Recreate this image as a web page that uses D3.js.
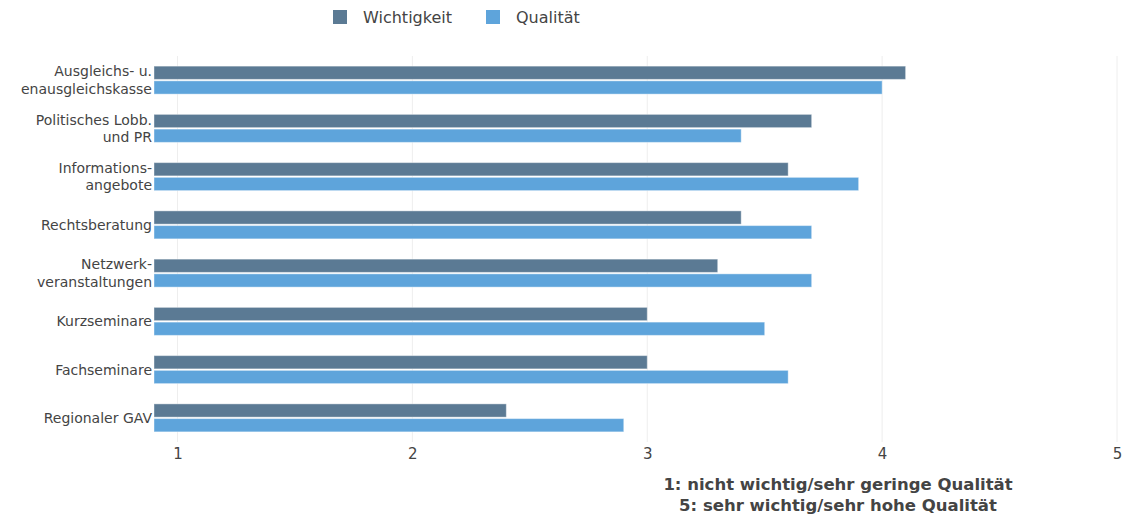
<!DOCTYPE html>
<html><head><meta charset="utf-8">
<script src="https://cdn.jsdelivr.net/npm/d3@7"></script>
<style>body{margin:0;background:#fff}svg{display:block}</style>
</head><body><svg id="c" width="1123" height="518"></svg>
<script>
const categories = [
  ["Ausgleichs- u.", "enausgleichskasse"],
  ["Politisches Lobb.", "und PR"],
  ["Informations-", "angebote"],
  ["Rechtsberatung"],
  ["Netzwerk-", "veranstaltungen"],
  ["Kurzseminare"],
  ["Fachseminare"],
  ["Regionaler GAV"]
];
const wichtigkeit = [4.1, 3.7, 3.6, 3.4, 3.3, 3.0, 3.0, 2.4];
const qualitaet   = [4.0, 3.4, 3.9, 3.7, 3.7, 3.5, 3.6, 2.9];
const seriesNames = ["Wichtigkeit", "Qualität"];
const tickValues = [1, 2, 3, 4, 5];
const note = ["1: nicht wichtig/sehr geringe Qualität", "5: sehr wichtig/sehr hohe Qualität"];

const colors = ["#5b7a94", "#5ea4db"];
const svg = d3.select("#c");
const font = "'DejaVu Sans', Verdana, sans-serif";

const x = d3.scaleLinear().domain([0.9, 5]).range([154, 1117]);
const y = d3.scaleBand().domain(d3.range(categories.length)).range([56, 442]).paddingInner(0.42).paddingOuter(0.21);
const sub = d3.scaleBand().domain([0, 1]).range([0, y.bandwidth()]).paddingInner(0.1);

// grid
svg.append("g").selectAll("line").data(tickValues).join("line")
  .attr("x1", d => x(d)).attr("x2", d => x(d))
  .attr("y1", 56).attr("y2", 442)
  .attr("stroke", "#eeeeee").attr("stroke-width", 1);

// x axis
const xAxis = d3.axisBottom(x).tickValues(tickValues).tickSize(0).tickPadding(3).tickFormat(d3.format("d"));
const gx = svg.append("g").attr("transform", "translate(0,445)").call(xAxis);
gx.select(".domain").remove();
gx.selectAll("text").attr("font-family", font).attr("font-size", 15).attr("fill", "#444");

// bars
const series = [wichtigkeit, qualitaet];
series.forEach((vals, si) => {
  svg.append("g").selectAll("rect").data(vals).join("rect")
    .attr("x", x(0.9))
    .attr("y", (d, i) => y(i) + sub(si))
    .attr("width", d => x(d) - x(0.9))
    .attr("height", sub.bandwidth())
    .attr("fill", colors[si])
    .attr("stroke", "rgba(255,255,255,0.4)")
    .attr("stroke-width", 1);
});

// y labels
const yl = svg.append("g");
categories.forEach((lines, i) => {
  const cy = y(i) + y.bandwidth() / 2;
  const lh = 17.5;
  const t = yl.append("text").attr("text-anchor", "end")
    .attr("font-family", font).attr("font-size", 14).attr("fill", "#444");
  lines.forEach((ln, j) => {
    t.append("tspan").attr("x", 152)
      .attr("y", cy + (j - (lines.length - 1) / 2) * lh + 5)
      .text(ln);
  });
});

// legend
const lg = svg.append("g");
const lx = [333, 486];
seriesNames.forEach((n, i) => {
  lg.append("rect").attr("x", lx[i]).attr("y", 10).attr("width", 14).attr("height", 14)
    .attr("fill", colors[i]);
  lg.append("text").attr("x", lx[i] + 30).attr("y", 23)
    .attr("font-family", font).attr("font-size", 16).attr("fill", "#444").text(n);
});

// note
svg.append("g").selectAll("text").data(note).join("text")
  .attr("x", 838).attr("y", (d, i) => 490 + i * 21)
  .attr("text-anchor", "middle")
  .attr("font-family", font).attr("font-size", 16.5).attr("font-weight", "bold").attr("fill", "#444")
  .text(d => d);
</script></body></html>
